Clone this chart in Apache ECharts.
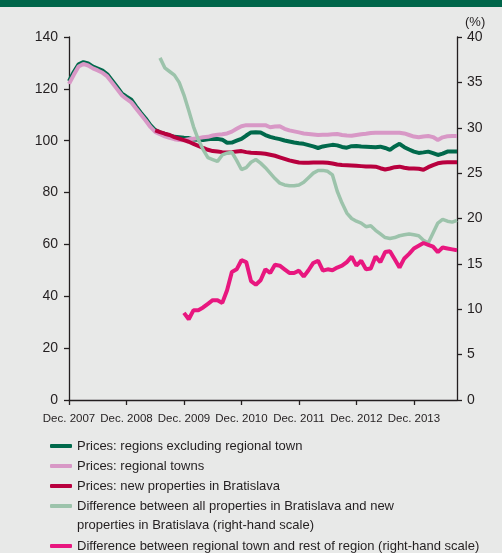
<!DOCTYPE html>
<html>
<head>
<meta charset="utf-8">
<script src="https://cdn.jsdelivr.net/npm/echarts@6/dist/echarts.min.js"></script>
<style>
html, body { margin: 0; padding: 0; background: #e8e9e8; }
#chart { width: 502px; height: 553px; }
</style>
</head>
<body>
<div id="chart"></div>
<script>
// monthly data, Dec. 2007 - Sep. 2014
var startYear = 2007, startMonth = 11, monthCount = 82;
var monthNames = ['Jan.', 'Feb.', 'Mar.', 'Apr.', 'May', 'Jun.', 'Jul.', 'Aug.', 'Sep.', 'Oct.', 'Nov.', 'Dec.'];

var seriesNames = [
    'Prices: regions excluding regional town',
    'Prices: regional towns',
    'Prices: new properties in Bratislava',
    'Difference between all properties in Bratislava and new properties in Bratislava (right-hand scale)',
    'Difference between regional town and rest of region (right-hand scale)'
];

// left scale
var regionsExTown = [123, 126.5, 129.5, 130.3, 129.8, 128.6, 127.8, 127, 125.6, 123.2,
    120.8, 118.3, 117, 115.8, 113.2, 110.8, 108.6, 106, 104.1, 103.2,
    102.6, 102, 101.5, 101.3, 101.1, 101, 100.5, 100.4, 100.3, 100.6,
    100.8, 100.7, 100.4, 99.2, 99.3, 100, 100.7, 102, 103.2, 103.3,
    103.2, 102.2, 101.5, 101, 100.6, 100.1, 99.7, 99.3, 99, 98.8,
    98.3, 97.8, 97.2, 97.8, 98.1, 98.4, 98.2, 97.6, 97.3, 97.9,
    98, 97.8, 97.7, 97.6, 97.5, 97.7, 97.2, 96.5, 97.8, 98.8,
    97.5, 96.6, 95.8, 95.3, 95.5, 95.8, 95.2, 94.5, 95, 95.8,
    95.8, 95.8];
var regionalTowns = [121.9, 125.4, 128.6, 129.6, 129, 127.9, 127.1, 126.2, 124.8, 122.4,
    120, 117.6, 116.1, 114.8, 112.4, 110.1, 107.8, 105.3, 103.4, 102.5,
    101.7, 101.1, 100.6, 100.3, 100.2, 100.6, 100.8, 101, 101.3, 101.5,
    102, 102.3, 102.5, 102.8, 103.5, 104.6, 105.6, 106, 106, 106,
    106, 106, 105.2, 105.5, 105.6, 104.6, 104, 103.6, 103.2, 102.8,
    102.6, 102.4, 102.2, 102.3, 102.3, 102.5, 102.6, 102.2, 102, 101.9,
    102.2, 102.5, 102.7, 103, 103.1, 103.1, 103.1, 103.1, 103.1, 103.1,
    102.8, 102.2, 101.6, 101.3, 101.6, 101.8, 101.4, 100.3, 101.3, 101.7,
    101.8, 101.8];
var newBratislavaStart = 18;
var newBratislava = [104, 103.3, 102.7, 102.2, 101.4, 100.8, 100.2, 99.6, 98.8, 98,
    97.2, 96.5, 96, 95.8, 95.6, 95.5, 95.6, 95.8, 96, 95.6,
    95.4, 95.3, 95.2, 95, 94.6, 94.2, 93.6, 93, 92.4, 92,
    91.6, 91.5, 91.5, 91.6, 91.6, 91.6, 91.5, 91.2, 90.8, 90.6,
    90.5, 90.4, 90.3, 90.2, 90.1, 90.1, 90, 89.4, 88.9, 89.3,
    89.8, 90, 89.6, 89.3, 89.3, 89.2, 88.8, 89.8, 90.6, 91.3,
    91.6, 91.7, 91.7, 91.7];

// right scale (%)
var diffBratislavaStart = 19;
var diffBratislava = [37.7, 36.6, 36.2, 35.8, 35.0, 33.6, 31.9, 30.1, 28.7, 27.6,
    26.7, 26.5, 26.3, 27.0, 27.2, 27.3, 26.4, 25.4, 25.6, 26.2,
    26.5, 26.1, 25.6, 25.0, 24.4, 23.9, 23.7, 23.6, 23.6, 23.7,
    24.0, 24.5, 25.0, 25.3, 25.3, 25.2, 24.8, 23.0, 21.7, 20.6,
    20.0, 19.7, 19.5, 19.1, 19.2, 18.7, 18.3, 17.9, 17.8, 17.9,
    18.1, 18.2, 18.3, 18.2, 18.1, 17.6, 17.3, 18.4, 19.5, 19.9,
    19.7, 19.6, 19.8];
var diffTownStart = 24;
var diffTown = [9.6, 8.9, 9.9, 9.9, 10.2, 10.6, 11, 11, 10.7, 12.1,
    14.1, 14.4, 15.4, 15.2, 13.1, 12.7, 13.2, 14.4, 14, 14.9,
    14.8, 14.4, 14, 14, 14.25, 13.6, 14.3, 15.1, 15.35, 14.25,
    14.4, 14.3, 14.6, 14.8, 15.2, 15.8, 14.8, 15.35, 14.4, 14.5,
    15.8, 15.2, 16.3, 16.4, 15.5, 14.6, 15.6, 16.1, 16.7, 17.0,
    17.3, 17.1, 16.9, 16.3, 16.8, 16.7, 16.6, 16.5];

var colors = ['#00694b', '#d898c6', '#b8003e', '#9cc3ab', '#e8177f'];
var widths = [4, 4, 4, 3.5, 4];
var txtColor = '#231f20';
var fontFam = '"Liberation Sans", Arial, sans-serif';

var months = [];
for (var i = 0; i < monthCount; i++) {
    var m = (startMonth + i) % 12;
    var y = startYear + Math.floor((startMonth + i) / 12);
    months.push(monthNames[m] + ' ' + y);
}

function pad(start, arr) {
    var out = [];
    for (var i = 0; i < start; i++) out.push(null);
    return out.concat(arr);
}

function lineSeries(idx, data, axis) {
    return {
        name: seriesNames[idx],
        type: 'line',
        yAxisIndex: axis,
        data: data,
        symbol: 'none',
        color: colors[idx],
        lineStyle: { width: widths[idx], color: colors[idx] }
    };
}

var legendText = {
    fontFamily: fontFam,
    fontSize: 13,
    lineHeight: 20,
    color: txtColor
};

var option = {
    backgroundColor: '#e8e9e8',
    animation: false,
    grid: { left: 69, right: 45, top: 37, bottom: 153 },
    legend: [{
        data: seriesNames.slice(0, 4),
        orient: 'vertical',
        left: 45,
        top: 431,
        icon: 'roundRect',
        itemWidth: 22,
        itemHeight: 4,
        itemGap: 0,
        selectedMode: false,
        textStyle: legendText,
        formatter: function (name) {
            if (name === seriesNames[3]) return 'Difference between all properties in Bratislava and new';
            return name;
        }
    }, {
        data: [seriesNames[4]],
        orient: 'vertical',
        left: 45,
        top: 531,
        icon: 'roundRect',
        itemWidth: 22,
        itemHeight: 4,
        selectedMode: false,
        textStyle: legendText
    }],
    graphic: [
        { type: 'rect', left: 0, top: 0, shape: { width: 502, height: 7 }, style: { fill: '#00664a' } },
        { type: 'text', left: 465, top: 16, style: { text: '(%)', font: '13px ' + fontFam, fill: txtColor } },
        { type: 'text', left: 77, top: 519, style: { text: 'properties in Bratislava (right-hand scale)', font: '13px ' + fontFam, fill: txtColor } }
    ],
    xAxis: {
        type: 'category',
        data: months,
        boundaryGap: false,
        axisLine: { lineStyle: { color: txtColor, width: 1.3 } },
        axisTick: { interval: 11, length: 5, lineStyle: { color: txtColor, width: 1.3 } },
        axisLabel: {
            interval: 11, margin: 13, fontFamily: fontFam, fontSize: 11.5, color: txtColor,
            showMinLabel: true, hideOverlap: false
        },
        splitLine: { show: false }
    },
    yAxis: [{
        type: 'value',
        min: 0,
        max: 140,
        interval: 20,
        axisLine: { show: true, lineStyle: { color: txtColor, width: 1.3 } },
        axisTick: { show: true, length: 5, lineStyle: { color: txtColor, width: 1.3 } },
        axisLabel: { margin: 11, fontFamily: fontFam, fontSize: 14, color: txtColor },
        splitLine: { show: false }
    }, {
        type: 'value',
        position: 'right',
        min: 0,
        max: 40,
        interval: 5,
        axisLine: { show: true, lineStyle: { color: txtColor, width: 1.3 } },
        axisTick: { show: true, length: 5, lineStyle: { color: txtColor, width: 1.3 } },
        axisLabel: { margin: 10, fontFamily: fontFam, fontSize: 14, color: txtColor },
        splitLine: { show: false }
    }],
    series: [
        lineSeries(0, regionsExTown, 0),
        lineSeries(1, regionalTowns, 0),
        lineSeries(2, pad(newBratislavaStart, newBratislava), 0),
        lineSeries(3, pad(diffBratislavaStart, diffBratislava), 1),
        lineSeries(4, pad(diffTownStart, diffTown), 1)
    ]
};

var myChart = echarts.init(document.getElementById('chart'));
myChart.setOption(option);
</script>
</body>
</html>
